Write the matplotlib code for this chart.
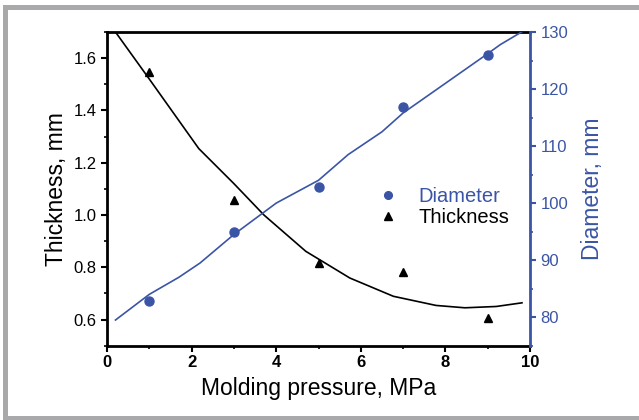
import matplotlib
matplotlib.use("Agg")
import matplotlib.pyplot as plt
from matplotlib.patches import Rectangle
from matplotlib.ticker import MultipleLocator

plt.rcParams['font.family'] = ['Liberation Sans', 'DejaVu Sans']

# Measured points
pressure = [1, 3, 5, 7, 9]
diameter = [82.8, 95.0, 102.9, 116.8, 126.0]
thickness = [1.546, 1.056, 0.817, 0.781, 0.606]

# Fitted curves
diam_fit_x = [0.2, 1.0, 1.7, 2.2, 3.0, 4.0, 5.0, 5.7, 6.5, 7.0, 8.0, 9.0, 9.3, 9.8]
diam_fit_y = [79.5, 84.0, 87.0, 89.5, 94.5, 100.0, 104.0, 108.5, 112.5, 115.8, 121.0, 126.2, 127.8, 130.0]
thick_fit_x = [0.2, 1.0, 2.17, 3.0, 3.71, 4.7, 5.74, 6.77, 7.78, 8.46, 9.2, 9.81]
thick_fit_y = [1.70, 1.52, 1.254, 1.12, 1.0, 0.861, 0.759, 0.689, 0.654, 0.645, 0.65, 0.664]

blue = '#3b55a6'

fig = plt.figure(figsize=(6.39, 4.2), dpi=100)
# gray frame
fig.patches.append(Rectangle((3/639, 4/420), 5/639, 1 - 14/420, transform=fig.transFigure,
                             facecolor='#a9a9ac', edgecolor='none'))
fig.patches.append(Rectangle((3/639, 1 - 10/420), 1, 5/420, transform=fig.transFigure,
                             facecolor='#a9a9ac', edgecolor='none'))
fig.patches.append(Rectangle((3/639, 0), 1, 4/420, transform=fig.transFigure,
                             facecolor='#a9a9ac', edgecolor='none'))

ax = fig.add_axes([107/639, 1 - 345.7/420, (530 - 107)/639, (345.7 - 32)/420])
ax2 = ax.twinx()

ax.plot(thick_fit_x, thick_fit_y, color='black', lw=1.2, zorder=3)
ax.plot(pressure, thickness, linestyle='none', marker='^', color='black', ms=6, zorder=4,
        label='Thickness')
ax2.plot(diam_fit_x, diam_fit_y, color=blue, lw=1.2, zorder=3)
ax2.plot(pressure, diameter, linestyle='none', marker='o', color=blue, ms=6.5, zorder=4,
         label='Diameter')

ax.set_xlim(0, 10)
ax.set_ylim(0.5, 1.7)
ax2.set_ylim(75, 130)

ax.xaxis.set_major_locator(MultipleLocator(2))
ax.xaxis.set_minor_locator(MultipleLocator(1))
ax.yaxis.set_major_locator(MultipleLocator(0.2))
ax.yaxis.set_minor_locator(MultipleLocator(0.1))
ax.set_yticks([0.6, 0.8, 1.0, 1.2, 1.4, 1.6])
ax.set_yticklabels(['0.6', '0.8', '1.0', '1.2', '1.4', '1.6'])
ax2.yaxis.set_major_locator(MultipleLocator(10))
ax2.yaxis.set_minor_locator(MultipleLocator(5))
ax2.set_yticks([80, 90, 100, 110, 120, 130])

for s in ['left', 'bottom']:
    ax.spines[s].set_linewidth(2.0)
ax.spines['top'].set_linewidth(2.0)
ax.spines['right'].set_visible(False)
for s in ['left', 'bottom', 'top']:
    ax2.spines[s].set_visible(False)
ax2.spines['right'].set_color(blue)
ax2.spines['right'].set_linewidth(2.0)

ax.tick_params(axis='both', which='major', direction='out', length=4, width=1.5,
               labelsize=12, colors='black')
ax.tick_params(axis='both', which='minor', direction='out', length=2.5, width=1.2)
ax.tick_params(axis='x', which='major', pad=3)
for lbl in ax.get_xticklabels():
    lbl.set_fontweight('bold')
ax2.tick_params(axis='y', which='major', direction='out', length=4, width=1.5,
                labelsize=12, colors=blue)
ax2.tick_params(axis='y', which='minor', direction='out', length=2.5, width=1.2, colors=blue)

ax.set_xlabel('Molding pressure, MPa', fontsize=16.5, labelpad=5)
ax.set_ylabel('Thickness, mm', fontsize=16.5, labelpad=4)
ax2.set_ylabel('Diameter, mm', fontsize=16.5, color=blue, labelpad=9)

h1, l1 = ax2.get_legend_handles_labels()
h2, l2 = ax.get_legend_handles_labels()
leg = ax2.legend(h1 + h2, l1 + l2, loc='upper left', bbox_to_anchor=((370 - 107) / 423, 1 - (179 - 32) / 313.7),
                 frameon=False, fontsize=14.5, handlelength=1.0, handletextpad=1.0,
                 labelspacing=0.1, borderaxespad=0, markerscale=0.85)
leg.get_texts()[0].set_color(blue)
leg.get_texts()[1].set_color('black')

fig.savefig('out.png', dpi=100)
